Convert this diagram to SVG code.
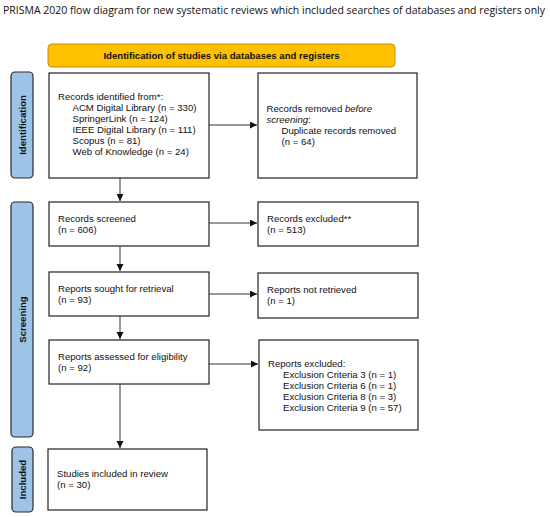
<svg xmlns="http://www.w3.org/2000/svg" width="550" height="517" viewBox="0 0 550 517">
<defs>
<marker id="ah" markerWidth="8" markerHeight="8" refX="7" refY="3.5" orient="auto" markerUnits="userSpaceOnUse">
<path d="M0,0 L7,3.5 L0,7 Z" fill="#111"/>
</marker>
<style>
.box{fill:#fff;stroke:#222;stroke-width:1.2}
.side{fill:#9dc3e6;stroke:#2b2b2b;stroke-width:1.2}
.t{font-family:"Liberation Sans",Arial,sans-serif;font-size:9.6px;fill:#111}
.s{font-family:"Liberation Sans",Arial,sans-serif;font-size:9.6px;font-weight:bold;fill:#111}
.c{stroke:#333;stroke-width:1;fill:none;marker-end:url(#ah)}
</style>
</defs>
<rect width="550" height="517" fill="#fff"/>
<text x="3" y="13.5" font-family="'Open Sans','Noto Sans',sans-serif" font-size="10" fill="#111" textLength="542" lengthAdjust="spacingAndGlyphs">PRISMA 2020 flow diagram  for new systematic reviews  which included searches of databases and registers only</text>
<g id="banner">
<rect x="48" y="44" width="347" height="23" rx="4" fill="#ffc000" stroke="#c49000" stroke-width="1"/>
<text x="221.5" y="59" text-anchor="middle" class="s">Identification of studies via databases and registers</text>
</g>
<g id="side-identification">
<rect class="side" x="11" y="72" width="22" height="106" rx="4"/>
<text class="s" transform="translate(25.5,125) rotate(-90)" text-anchor="middle">Identification</text>
</g>
<g id="side-screening">
<rect class="side" x="11" y="202" width="22" height="235" rx="4"/>
<text class="s" transform="translate(25.5,319.5) rotate(-90)" text-anchor="middle">Screening</text>
</g>
<g id="side-included">
<rect class="side" x="12" y="447" width="21" height="65" rx="4"/>
<text class="s" transform="translate(26,479.5) rotate(-90)" text-anchor="middle">Included</text>
</g>
<g id="records-identified">
<rect class="box" x="49" y="73" width="160" height="105"/>
<text class="t" x="58" y="100">Records identified from*:</text>
<text class="t" x="72.5" y="111">ACM Digital Library (n = 330)</text>
<text class="t" x="72.5" y="122">SpringerLink (n = 124)</text>
<text class="t" x="72.5" y="133">IEEE Digital Library (n = 111)</text>
<text class="t" x="72.5" y="144">Scopus (n = 81)</text>
<text class="t" x="72.5" y="155">Web of Knowledge (n = 24)</text>
</g>
<g id="records-removed">
<rect class="box" x="258" y="73" width="159" height="105"/>
<text class="t" x="266.5" y="112">Records removed <tspan font-style="italic">before</tspan></text>
<text class="t" x="266.5" y="123"><tspan font-style="italic">screening</tspan>:</text>
<text class="t" x="281.5" y="134">Duplicate records removed</text>
<text class="t" x="281.5" y="145">(n = 64)</text>
</g>
<g id="records-screened">
<rect class="box" x="49" y="202" width="160" height="44"/>
<text class="t" x="58" y="222">Records screened</text>
<text class="t" x="58" y="233">(n = 606)</text>
</g>
<g id="records-excluded">
<rect class="box" x="258" y="202" width="160" height="44"/>
<text class="t" x="267" y="222">Records excluded**</text>
<text class="t" x="267" y="233">(n = 513)</text>
</g>
<g id="reports-sought">
<rect class="box" x="49" y="272" width="160" height="44"/>
<text class="t" x="58" y="292">Reports sought for retrieval</text>
<text class="t" x="58" y="303">(n = 93)</text>
</g>
<g id="reports-not-retrieved">
<rect class="box" x="258" y="273" width="160" height="45"/>
<text class="t" x="267" y="293">Reports not retrieved</text>
<text class="t" x="267" y="304">(n = 1)</text>
</g>
<g id="reports-assessed">
<rect class="box" x="49" y="340" width="160" height="44"/>
<text class="t" x="58" y="360">Reports assessed for eligibility</text>
<text class="t" x="58" y="371">(n = 92)</text>
</g>
<g id="reports-excluded">
<rect class="box" x="259" y="340" width="159" height="90"/>
<text class="t" x="268" y="367">Reports excluded:</text>
<text class="t" x="283" y="378">Exclusion Criteria 3 (n = 1)</text>
<text class="t" x="283" y="389">Exclusion Criteria 6 (n = 1)</text>
<text class="t" x="283" y="400">Exclusion Criteria 8 (n = 3)</text>
<text class="t" x="283" y="411">Exclusion Criteria 9 (n = 57)</text>
</g>
<g id="studies-included">
<rect class="box" x="48" y="449" width="159" height="61"/>
<text class="t" x="57" y="477">Studies included in review</text>
<text class="t" x="57" y="488">(n = 30)</text>
</g>
<g id="connectors">
<line class="c" x1="209" y1="125" x2="257" y2="125"/>
<line class="c" x1="120" y1="178" x2="120" y2="201"/>
<line class="c" x1="209" y1="223" x2="257" y2="223"/>
<line class="c" x1="120" y1="246" x2="120" y2="271"/>
<line class="c" x1="209" y1="294" x2="257" y2="294"/>
<line class="c" x1="120" y1="316" x2="120" y2="339"/>
<line class="c" x1="209" y1="364" x2="258" y2="364"/>
<line class="c" x1="120" y1="384" x2="120" y2="448"/>
</g>
</svg>
